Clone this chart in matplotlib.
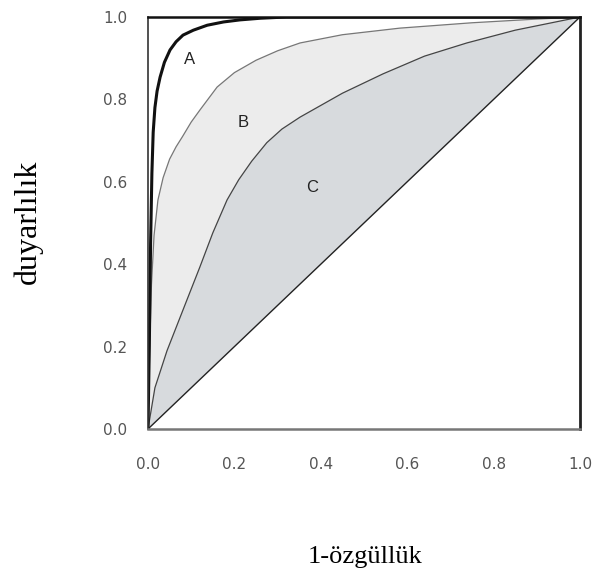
import numpy as np
import matplotlib
matplotlib.use("Agg")
import matplotlib.pyplot as plt

# ROC curves (x = 1-specificity, y = sensitivity)
a_x = [0.0, 0.003, 0.006, 0.009, 0.012, 0.016, 0.021, 0.028, 0.038, 0.051, 0.065,
       0.081, 0.105, 0.137, 0.175, 0.213, 0.26, 0.32, 1.0]
a_y = [0.0, 0.20, 0.45, 0.62, 0.72, 0.78, 0.82, 0.854, 0.89, 0.92, 0.94,
       0.956, 0.968, 0.98, 0.988, 0.993, 0.997, 1.0, 1.0]

b_x = [0.0, 0.004, 0.008, 0.014, 0.023, 0.035, 0.05, 0.065, 0.08, 0.1, 0.12, 0.16,
       0.2, 0.25, 0.3, 0.352, 0.45, 0.583, 0.75, 0.9, 1.0]
b_y = [0.0, 0.20, 0.35, 0.47, 0.556, 0.61, 0.655, 0.685, 0.71, 0.745, 0.774, 0.83,
       0.865, 0.895, 0.918, 0.937, 0.957, 0.973, 0.986, 0.995, 1.0]

c_x = [0.0, 0.016, 0.044, 0.09, 0.12, 0.15, 0.183, 0.21, 0.24, 0.275, 0.31, 0.352,
       0.45, 0.544, 0.64, 0.738, 0.85, 1.0]
c_y = [0.0, 0.10, 0.19, 0.313, 0.393, 0.476, 0.556, 0.605, 0.65, 0.695, 0.728, 0.757,
       0.815, 0.862, 0.905, 0.937, 0.968, 1.0]

diag = [0.0, 1.0]
ticks = [0.0, 0.2, 0.4, 0.6, 0.8, 1.0]
tick_labels = ["0.0", "0.2", "0.4", "0.6", "0.8", "1.0"]

fig = plt.figure(figsize=(5.94, 5.74), dpi=100)
ax = fig.add_axes([148 / 594, 1 - 429 / 574, 432 / 594, 412 / 574])

# shaded areas: between B and C, then between C and the diagonal
ax.fill(b_x + c_x[::-1], b_y + c_y[::-1], color="#ececec", lw=0)
ax.fill(c_x + diag[::-1], c_y + diag[::-1], color="#d7dadd", lw=0)

ax.plot(diag, diag, color="#222222", lw=1.0)
ax.plot(c_x, c_y, color="#444444", lw=0.9)
ax.plot(b_x, b_y, color="#777777", lw=0.9)
ax.plot(a_x, a_y, color="#111111", lw=2.2, solid_capstyle="round", solid_joinstyle="round")

for lbl, x, y in [("A", 0.097, 0.896), ("B", 0.22, 0.745), ("C", 0.38, 0.587)]:
    ax.text(x, y, lbl, fontsize=12, color="#222222", family="Liberation Sans",
            ha="center", va="center")

ax.set_xlim(0, 1)
ax.set_ylim(0, 1)
ax.set_xticks(ticks)
ax.set_xticklabels(tick_labels)
ax.set_yticks(ticks)
ax.set_yticklabels(tick_labels)
ax.tick_params(length=0, labelsize=11, labelcolor="#555555")
ax.tick_params(axis="x", pad=20)
ax.tick_params(axis="y", pad=15)

ax.spines["top"].set_linewidth(1.8)
ax.spines["top"].set_color("#111111")
ax.spines["left"].set_linewidth(1.2)
ax.spines["left"].set_color("#333333")
ax.spines["bottom"].set_linewidth(1.8)
ax.spines["bottom"].set_color("#777777")
ax.spines["right"].set_linewidth(2.0)
ax.spines["right"].set_color("#222222")

fig.text(28 / 594, 1 - 222 / 574, "duyarlılık", rotation=90, fontsize=23,
         family="Liberation Serif", ha="center", va="center")
fig.text(365 / 594, 1 - 557 / 574, "1-özgüllük", fontsize=19,
         family="Liberation Serif", ha="center", va="center")

fig.savefig("out.png", dpi=100)
